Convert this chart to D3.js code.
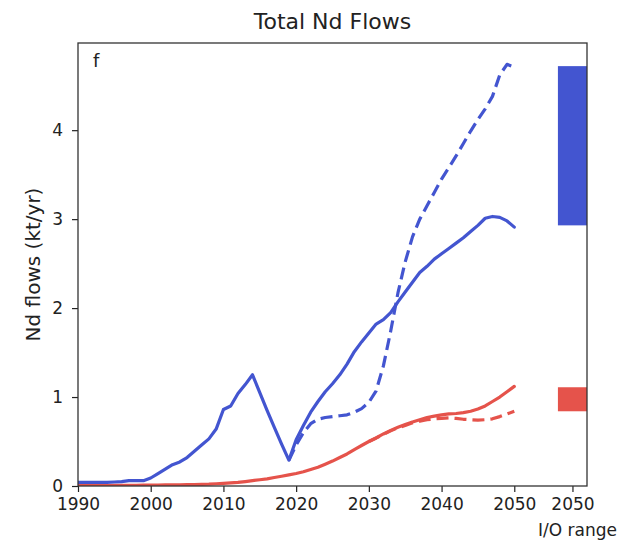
<!DOCTYPE html>
<html>
<head>
<meta charset="utf-8">
<script src="https://cdn.jsdelivr.net/npm/d3@7"></script>
<style>
  html, body { margin: 0; padding: 0; background: #fff; }
  svg { display: block; font-family: "DejaVu Sans", sans-serif; }
</style>
</head>
<body>
<svg id="chart" width="618" height="540"></svg>
<script>
// Annual years covered by the historical + scenario series
const years = d3.range(1990, 2051);

// Total Nd flow, primary scenario (kt/yr), 1990-2050
const blueSolid = [
  0.04, 0.04, 0.04, 0.04, 0.04, 0.045, 0.05, 0.06, 0.06, 0.06,
  0.09, 0.14, 0.19, 0.24, 0.27, 0.32, 0.39, 0.46, 0.53, 0.64,
  0.86, 0.90, 1.04, 1.14, 1.25, 1.05, 0.85, 0.66, 0.47, 0.29,
  0.52, 0.68, 0.83, 0.95, 1.06, 1.15, 1.25, 1.37, 1.51, 1.62,
  1.72, 1.82, 1.87, 1.95, 2.07, 2.18, 2.29, 2.40, 2.47, 2.55,
  2.61, 2.67, 2.73, 2.79, 2.86, 2.93, 3.01, 3.03, 3.02, 2.98,
  2.91
];

// Alternative scenario, 2019-2050
const blueDashYears = d3.range(2019, 2051);
const blueDashed = [
  0.29, 0.46, 0.60, 0.70, 0.75, 0.77, 0.78, 0.79, 0.80, 0.83,
  0.87, 0.94, 1.07, 1.35, 1.74, 2.17, 2.52, 2.80, 3.00, 3.15,
  3.30, 3.45, 3.58, 3.71, 3.85, 3.99, 4.12, 4.24, 4.38, 4.62,
  4.74, 4.71
];

// Second flow, primary scenario, 1990-2050
const redSolid = [
  0.005, 0.005, 0.005, 0.005, 0.005, 0.006, 0.006, 0.007, 0.008, 0.009,
  0.010, 0.011, 0.012, 0.013, 0.014, 0.015, 0.017, 0.019, 0.021, 0.025,
  0.030, 0.035, 0.040, 0.050, 0.060, 0.070, 0.080, 0.095, 0.110, 0.125,
  0.140, 0.160, 0.185, 0.210, 0.245, 0.280, 0.320, 0.360, 0.410, 0.455,
  0.500, 0.540, 0.585, 0.625, 0.660, 0.690, 0.720, 0.745, 0.770, 0.785,
  0.800, 0.810, 0.815, 0.825, 0.840, 0.865, 0.900, 0.950, 1.000, 1.060,
  1.120
];

// Second flow, alternative scenario, 2030-2050
const redDashYears = d3.range(2030, 2051);
const redDashed = [
  0.50, 0.54, 0.58, 0.62, 0.655, 0.68, 0.71, 0.73, 0.745, 0.755,
  0.76, 0.765, 0.76, 0.75, 0.745, 0.74, 0.745, 0.755, 0.78, 0.81,
  0.84
];

// I/O model range for 2050, [low, high]
const ioBlue = [2.93, 4.72];
const ioRed = [0.84, 1.11];

const xTicks = [1990, 2000, 2010, 2020, 2030, 2040, 2050];
const ioPos = 2058;      // position of the extra "I/O range" column
const yTicks = [0, 1, 2, 3, 4];

const BLUE = "#4355d0";
const RED = "#e5534b";

const svg = d3.select("#chart");
const m = { left: 78, right: 587, top: 43, bottom: 486 };

const x = d3.scaleLinear().domain([1990, 2060]).range([m.left, m.right]);
const y = d3.scaleLinear().domain([0, 4.98]).range([m.bottom, m.top]);

svg.append("defs").append("clipPath").attr("id", "plot")
  .append("rect")
  .attr("x", m.left).attr("y", m.top)
  .attr("width", m.right - m.left).attr("height", m.bottom - m.top);

const g = svg.append("g").attr("clip-path", "url(#plot)");

// I/O range bars centred on the extra column
const barHalf = 2;
[[ioBlue, BLUE], [ioRed, RED]].forEach(([r, c]) => {
  g.append("rect")
    .attr("x", x(ioPos - barHalf))
    .attr("width", x(ioPos + barHalf) - x(ioPos - barHalf))
    .attr("y", y(r[1]))
    .attr("height", y(r[0]) - y(r[1]))
    .attr("fill", c);
});

const line = d3.line().x(d => x(d[0])).y(d => y(d[1]));

function draw(xs, vs, color, dashed) {
  g.append("path")
    .datum(xs.map((yr, i) => [yr, vs[i]]))
    .attr("d", line)
    .attr("fill", "none")
    .attr("stroke", color)
    .attr("stroke-width", 3.2)
    .attr("stroke-linejoin", "round")
    .attr("stroke-linecap", dashed ? "butt" : "round")
    .attr("stroke-dasharray", dashed ? "12,6" : null);
}

draw(redDashYears, redDashed, RED, true);
draw(years, redSolid, RED, false);
draw(blueDashYears, blueDashed, BLUE, true);
draw(years, blueSolid, BLUE, false);

// Axes
const xAxis = d3.axisBottom(x)
  .tickValues(xTicks.concat([ioPos]))
  .tickFormat(d => d === ioPos ? "2050" : String(d))
  .tickSizeInner(6).tickSizeOuter(0).tickPadding(6);
const yAxis = d3.axisLeft(y)
  .tickValues(yTicks)
  .tickFormat(d3.format("d"))
  .tickSizeInner(6).tickSizeOuter(0).tickPadding(9);

const gx = svg.append("g").attr("transform", `translate(0,${m.bottom})`).call(xAxis);
const gy = svg.append("g").attr("transform", `translate(${m.left},0)`).call(yAxis);
[gx, gy].forEach(a => {
  a.select(".domain").remove();
  a.selectAll(".tick line").attr("stroke", "#222").attr("stroke-width", 1.2);
  a.selectAll(".tick text").attr("fill", "#222").style("font-size", "17px")
    .style("font-family", "DejaVu Sans, sans-serif");
});

// Frame
svg.append("rect")
  .attr("x", m.left).attr("y", m.top)
  .attr("width", m.right - m.left).attr("height", m.bottom - m.top)
  .attr("fill", "none").attr("stroke", "#333").attr("stroke-width", 1.3);

// Texts
svg.append("text")
  .attr("x", (m.left + m.right) / 2).attr("y", 29)
  .attr("text-anchor", "middle")
  .style("font-size", "22px").attr("fill", "#222")
  .text("Total Nd Flows");

svg.append("text")
  .attr("transform", `translate(40,${(m.top + m.bottom) / 2}) rotate(-90)`)
  .attr("text-anchor", "middle")
  .style("font-size", "20px").attr("fill", "#222")
  .text("Nd flows (kt/yr)");

svg.append("text")
  .attr("x", 93).attr("y", 67)
  .style("font-size", "18px").attr("fill", "#222")
  .text("f");

svg.append("text")
  .attr("x", 617).attr("y", 536)
  .attr("text-anchor", "end")
  .style("font-size", "17px").attr("fill", "#222")
  .text("I/O range");
</script>
</body>
</html>
